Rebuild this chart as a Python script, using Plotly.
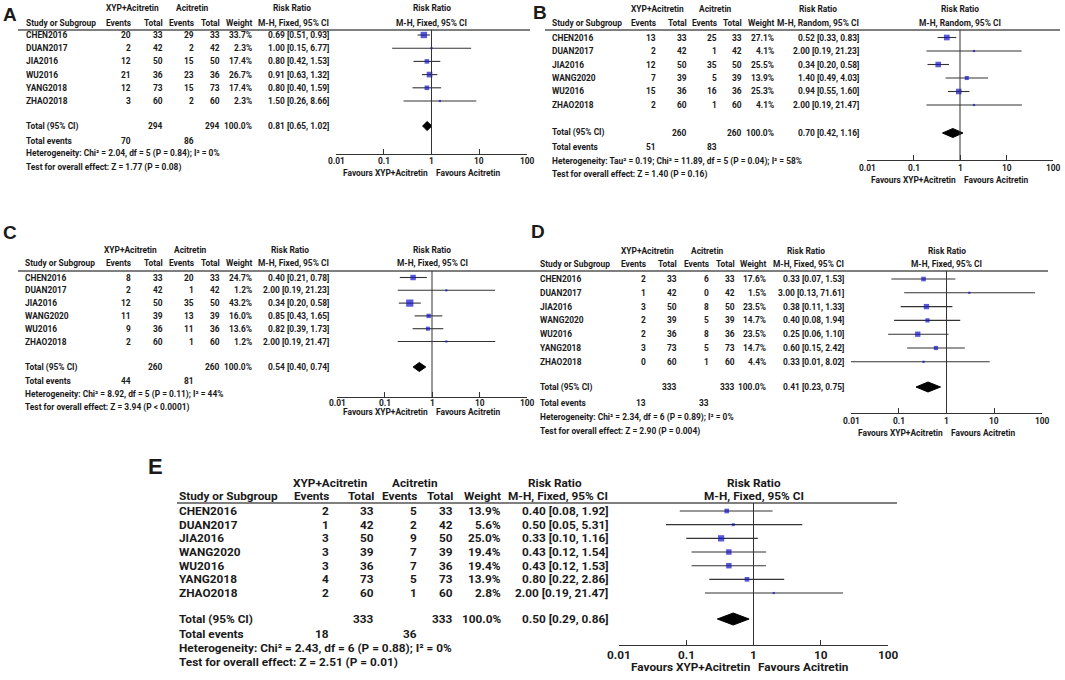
import math
import plotly.graph_objects as go

W, H = 1065, 680
FONT = "Roboto, Liberation Sans, Arial, sans-serif"
TXT = "#1a1a1a"

# ---------------- data ----------------
A_studies = ["CHEN2016", "DUAN2017", "JIA2016", "WU2016", "YANG2018", "ZHAO2018"]
A_exp_events = [20, 2, 12, 21, 12, 3]
A_exp_total = [33, 42, 50, 36, 73, 60]
A_ctl_events = [29, 2, 15, 23, 15, 2]
A_ctl_total = [33, 42, 50, 36, 73, 60]
A_weight = [33.7, 2.3, 17.4, 26.7, 17.4, 2.3]
A_rr = [0.69, 1.00, 0.80, 0.91, 0.80, 1.50]
A_lo = [0.51, 0.15, 0.42, 0.63, 0.40, 0.26]
A_hi = [0.93, 6.77, 1.53, 1.32, 1.59, 8.66]
A_pooled = [0.81, 0.65, 1.02]
A_method = "M-H, Fixed, 95% CI"
A_het = "Heterogeneity: Chi² = 2.04, df = 5 (P = 0.84); I² = 0%"
A_test = "Test for overall effect: Z = 1.77 (P = 0.08)"

B_studies = ["CHEN2016", "DUAN2017", "JIA2016", "WANG2020", "WU2016", "ZHAO2018"]
B_exp_events = [13, 2, 12, 7, 15, 2]
B_exp_total = [33, 42, 50, 39, 36, 60]
B_ctl_events = [25, 1, 35, 5, 16, 1]
B_ctl_total = [33, 42, 50, 39, 36, 60]
B_weight = [27.1, 4.1, 25.5, 13.9, 25.3, 4.1]
B_rr = [0.52, 2.00, 0.34, 1.40, 0.94, 2.00]
B_lo = [0.33, 0.19, 0.20, 0.49, 0.55, 0.19]
B_hi = [0.83, 21.23, 0.58, 4.03, 1.60, 21.47]
B_pooled = [0.70, 0.42, 1.16]
B_method = "M-H, Random, 95% CI"
B_het = "Heterogeneity: Tau² = 0.19; Chi² = 11.89, df = 5 (P = 0.04); I² = 58%"
B_test = "Test for overall effect: Z = 1.40 (P = 0.16)"

C_studies = ["CHEN2016", "DUAN2017", "JIA2016", "WANG2020", "WU2016", "ZHAO2018"]
C_exp_events = [8, 2, 12, 11, 9, 2]
C_exp_total = [33, 42, 50, 39, 36, 60]
C_ctl_events = [20, 1, 35, 13, 11, 1]
C_ctl_total = [33, 42, 50, 39, 36, 60]
C_weight = [24.7, 1.2, 43.2, 16.0, 13.6, 1.2]
C_rr = [0.40, 2.00, 0.34, 0.85, 0.82, 2.00]
C_lo = [0.21, 0.19, 0.20, 0.43, 0.39, 0.19]
C_hi = [0.78, 21.23, 0.58, 1.65, 1.73, 21.47]
C_pooled = [0.54, 0.40, 0.74]
C_method = "M-H, Fixed, 95% CI"
C_het = "Heterogeneity: Chi² = 8.92, df = 5 (P = 0.11); I² = 44%"
C_test = "Test for overall effect: Z = 3.94 (P < 0.0001)"

D_studies = ["CHEN2016", "DUAN2017", "JIA2016", "WANG2020", "WU2016", "YANG2018", "ZHAO2018"]
D_exp_events = [2, 1, 3, 2, 2, 3, 0]
D_exp_total = [33, 42, 50, 39, 36, 73, 60]
D_ctl_events = [6, 0, 8, 5, 8, 5, 1]
D_ctl_total = [33, 42, 50, 39, 36, 73, 60]
D_weight = [17.6, 1.5, 23.5, 14.7, 23.5, 14.7, 4.4]
D_rr = [0.33, 3.00, 0.38, 0.40, 0.25, 0.60, 0.33]
D_lo = [0.07, 0.13, 0.11, 0.08, 0.06, 0.15, 0.01]
D_hi = [1.53, 71.61, 1.33, 1.94, 1.10, 2.42, 8.02]
D_pooled = [0.41, 0.23, 0.75]
D_method = "M-H, Fixed, 95% CI"
D_het = "Heterogeneity: Chi² = 2.34, df = 6 (P = 0.89); I² = 0%"
D_test = "Test for overall effect: Z = 2.90 (P = 0.004)"

E_studies = ["CHEN2016", "DUAN2017", "JIA2016", "WANG2020", "WU2016", "YANG2018", "ZHAO2018"]
E_exp_events = [2, 1, 3, 3, 3, 4, 2]
E_exp_total = [33, 42, 50, 39, 36, 73, 60]
E_ctl_events = [5, 2, 9, 7, 7, 5, 1]
E_ctl_total = [33, 42, 50, 39, 36, 73, 60]
E_weight = [13.9, 5.6, 25.0, 19.4, 19.4, 13.9, 2.8]
E_rr = [0.40, 0.50, 0.33, 0.43, 0.43, 0.80, 2.00]
E_lo = [0.08, 0.05, 0.10, 0.12, 0.12, 0.22, 0.19]
E_hi = [1.92, 5.31, 1.16, 1.54, 1.53, 2.86, 21.47]
E_pooled = [0.50, 0.29, 0.86]
E_method = "M-H, Fixed, 95% CI"
E_het = "Heterogeneity: Chi² = 2.43, df = 6 (P = 0.88); I² = 0%"
E_test = "Test for overall effect: Z = 2.51 (P = 0.01)"

tick_vals = [0.01, 0.1, 1, 10, 100]
tick_text = ["0.01", "0.1", "1", "10", "100"]
grp_exp = "XYP+Acitretin"
grp_ctl = "Acitretin"
fav_left = "Favours XYP+Acitretin"
fav_right = "Favours Acitretin"

panels = [
    dict(label="A", studies=A_studies, ee=A_exp_events, et=A_exp_total, ce=A_ctl_events, ct=A_ctl_total,
         w=A_weight, rr=A_rr, lo=A_lo, hi=A_hi, pooled=A_pooled, method=A_method, het=A_het, test=A_test),
    dict(label="B", studies=B_studies, ee=B_exp_events, et=B_exp_total, ce=B_ctl_events, ct=B_ctl_total,
         w=B_weight, rr=B_rr, lo=B_lo, hi=B_hi, pooled=B_pooled, method=B_method, het=B_het, test=B_test),
    dict(label="C", studies=C_studies, ee=C_exp_events, et=C_exp_total, ce=C_ctl_events, ct=C_ctl_total,
         w=C_weight, rr=C_rr, lo=C_lo, hi=C_hi, pooled=C_pooled, method=C_method, het=C_het, test=C_test),
    dict(label="D", studies=D_studies, ee=D_exp_events, et=D_exp_total, ce=D_ctl_events, ct=D_ctl_total,
         w=D_weight, rr=D_rr, lo=D_lo, hi=D_hi, pooled=D_pooled, method=D_method, het=D_het, test=D_test),
    dict(label="E", studies=E_studies, ee=E_exp_events, et=E_exp_total, ce=E_ctl_events, ct=E_ctl_total,
         w=E_weight, rr=E_rr, lo=E_lo, hi=E_hi, pooled=E_pooled, method=E_method, het=E_het, test=E_test),
]

# ---------------- layout geometry (pixels) ----------------
geoms = [
    dict(lx=10, ly=14, ls=19, sx=25, cols=[132, 164, 195, 221, 253, 330], h1=8, h2=23, c1=[132, 192, 292],
         ly0=30, lx0=18, lx1=530, r0=35, rs=13.2, ty=126, evy=141, hy=154, tsy=167,
         fx0=336, fx1=527, ay=154, tly=160.5, fy=173, fs=8.4, mk=1.1, dh=4.5),
    dict(lx=540, ly=12, ls=19, sx=551, cols=[657, 688, 718, 743, 775, 860], h1=9, h2=23, c1=[657, 715, 818],
         ly0=30, lx0=545, lx1=1060, r0=37.5, rs=13.5, ty=133, evy=147, hy=161, tsy=175,
         fx0=867, fx1=1053, ay=160, tly=167.5, fy=180, fs=8.4, mk=1.1, dh=4.5),
    dict(lx=10, ly=232, ls=19, sx=24, cols=[132, 164, 195, 221, 253, 330], h1=250, h2=263, c1=[130, 190, 290],
         ly0=271, lx0=18, lx1=533, r0=277.5, rs=12.8, ty=367, evy=381, hy=394, tsy=407,
         fx0=337, fx1=527, ay=397, tly=402.5, fy=412, fs=8.4, mk=1.1, dh=4.5),
    dict(lx=538, ly=231, ls=19, sx=539, cols=[647, 678, 710, 736, 767, 845], h1=251, h2=264, c1=[647, 707, 806],
         ly0=271, lx0=533, lx1=1048, r0=279, rs=13.8, ty=387, evy=403, hy=417, tsy=431,
         fx0=851, fx1=1042, ay=413, tly=421, fy=433, fs=8.4, mk=1.1, dh=5),
    dict(lx=155, ly=466, ls=22, sx=178, cols=[330, 375, 418, 454, 502, 609], h1=483, h2=496, c1=[330, 415, 555],
         ly0=503, lx0=177, lx1=897, r0=511, rs=13.67, ty=619, evy=634, hy=648, tsy=662,
         fx0=619, fx1=888, ay=645, tly=655, fy=667, fs=11.8, mk=1.25, dh=6),
]

fig = go.Figure()
annotations = []
shapes = []


def ann(x, y, text, anchor="left", size=8.5, weight="bold", family=FONT):
    annotations.append(dict(
        x=x / W, y=1 - y / H, xref="paper", yref="paper", text=text, showarrow=False,
        xanchor=anchor, yanchor="middle", borderpad=0,
        font=dict(family=family, size=size, color=TXT, weight=weight),
    ))


layout_axes = {}
for n, (p, g) in enumerate(zip(panels, geoms), start=1):
    fs = g["fs"]
    sfx = "" if n == 1 else str(n)
    xa, ya = "x" + sfx, "y" + sfx

    # panel letter
    ann(g["lx"], g["ly"], p["label"], "center", g["ls"], "bold", "Liberation Sans, Arial, sans-serif")
    # headers
    ann(g["c1"][0], g["h1"], grp_exp, "center", fs)
    ann(g["c1"][1], g["h1"], grp_ctl, "center", fs)
    ann(g["c1"][2], g["h1"], "Risk Ratio", "center", fs)
    ann(g["sx"], g["h2"], "Study or Subgroup", "left", fs)
    for cx, lab in zip(g["cols"], ["Events", "Total", "Events", "Total", "Weight", p["method"]]):
        ann(cx, g["h2"], lab, "right", fs)
    fc = (g["fx0"] + g["fx1"]) / 2
    ann(fc, g["h1"], "Risk Ratio", "center", fs)
    ann(fc, g["h2"], p["method"], "center", fs)

    # study rows
    row_y = []
    for i, s in enumerate(p["studies"]):
        y = g["r0"] + i * g["rs"]
        row_y.append(y)
        ann(g["sx"], y, s, "left", fs)
        vals = [str(p["ee"][i]), str(p["et"][i]), str(p["ce"][i]), str(p["ct"][i]),
                f"{p['w'][i]:.1f}%", f"{p['rr'][i]:.2f} [{p['lo'][i]:.2f}, {p['hi'][i]:.2f}]"]
        for cx, v in zip(g["cols"], vals):
            ann(cx, y, v, "right", fs)

    # totals
    pr, plo, phi = p["pooled"]
    ann(g["sx"], g["ty"], "Total (95% CI)", "left", fs)
    ann(g["cols"][1], g["ty"], str(sum(p["et"])), "right", fs)
    ann(g["cols"][3], g["ty"], str(sum(p["ct"])), "right", fs)
    ann(g["cols"][4], g["ty"], "100.0%", "right", fs)
    ann(g["cols"][5], g["ty"], f"{pr:.2f} [{plo:.2f}, {phi:.2f}]", "right", fs)
    ann(g["sx"], g["evy"], "Total events", "left", fs)
    ann(g["cols"][0], g["evy"], str(sum(p["ee"])), "right", fs)
    ann(g["cols"][2], g["evy"], str(sum(p["ce"])), "right", fs)
    ann(g["sx"], g["hy"], p["het"], "left", fs)
    ann(g["sx"], g["tsy"], p["test"], "left", fs)

    # favours
    ann(fc - 3, g["fy"], fav_left, "right", fs)
    ann(fc + 3, g["fy"], fav_right, "left", fs)

    # tick labels placed on the log axis (annotation x in log10 units)
    for tv, tt in zip(tick_vals, tick_text):
        annotations.append(dict(
            x=math.log10(tv), xref=xa, y=1 - g["tly"] / H, yref="paper", text=tt, showarrow=False,
            xanchor="center", yanchor="middle", borderpad=0,
            font=dict(family=FONT, size=fs, color=TXT, weight="bold"),
        ))

    # header rule
    shapes.append(dict(type="line", xref="paper", yref="paper",
                       x0=g["lx0"] / W, x1=g["lx1"] / W, y0=1 - g["ly0"] / H, y1=1 - g["ly0"] / H,
                       line=dict(color="#555555", width=1.3)))
    # line of no effect
    shapes.append(dict(type="line", xref=xa, yref=ya, x0=1, x1=1, y0=g["ly0"], y1=g["ay"],
                       line=dict(color="#333333", width=1)))

    # CI lines
    cx_, cy_ = [], []
    for lo, hi, y in zip(p["lo"], p["hi"], row_y):
        cx_ += [lo, hi, None]
        cy_ += [y, y, None]
    fig.add_trace(go.Scatter(x=cx_, y=cy_, mode="lines", xaxis=xa, yaxis=ya, showlegend=False,
                             line=dict(color="#333333", width=1.1), hoverinfo="skip", cliponaxis=False))
    # squares
    sizes = [max(2.2, g["mk"] * (w ** 0.5)) for w in p["w"]]
    fig.add_trace(go.Scatter(x=p["rr"], y=row_y, mode="markers", xaxis=xa, yaxis=ya, showlegend=False,
                             marker=dict(symbol="square", size=sizes, color="#1414c8", line=dict(width=0)),
                             cliponaxis=False))
    # diamond
    dh = g["dh"]
    ty = g["ty"]
    fig.add_trace(go.Scatter(x=[plo, pr, phi, pr, plo], y=[ty, ty - dh, ty, ty + dh, ty],
                             mode="lines", fill="toself", fillcolor="black", xaxis=xa, yaxis=ya,
                             line=dict(color="black", width=1), showlegend=False, cliponaxis=False))

    layout_axes["xaxis" + sfx] = dict(
        type="log", range=[-2, 2], domain=[g["fx0"] / W, g["fx1"] / W], anchor=ya,
        tickvals=tick_vals, ticks="inside", ticklen=5, tickcolor="#333333", tickwidth=1,
        showticklabels=False,
        showline=True, linecolor="#333333", linewidth=1, showgrid=False, zeroline=False,
        fixedrange=True,
    )
    layout_axes["yaxis" + sfx] = dict(
        range=[g["ay"], g["ly0"]], domain=[1 - g["ay"] / H, 1 - g["ly0"] / H], anchor=xa,
        visible=False, showgrid=False, zeroline=False, fixedrange=True,
    )

fig.update_layout(
    width=W, height=H, margin=dict(l=0, r=0, t=0, b=0),
    paper_bgcolor="white", plot_bgcolor="rgba(0,0,0,0)",
    annotations=annotations, shapes=shapes, showlegend=False, hovermode=False,
    **layout_axes,
)

fig.write_html("out.html", config={"displayModeBar": False, "staticPlot": True},
               post_script="document.body.style.margin='0px';document.body.style.padding='0px';")
